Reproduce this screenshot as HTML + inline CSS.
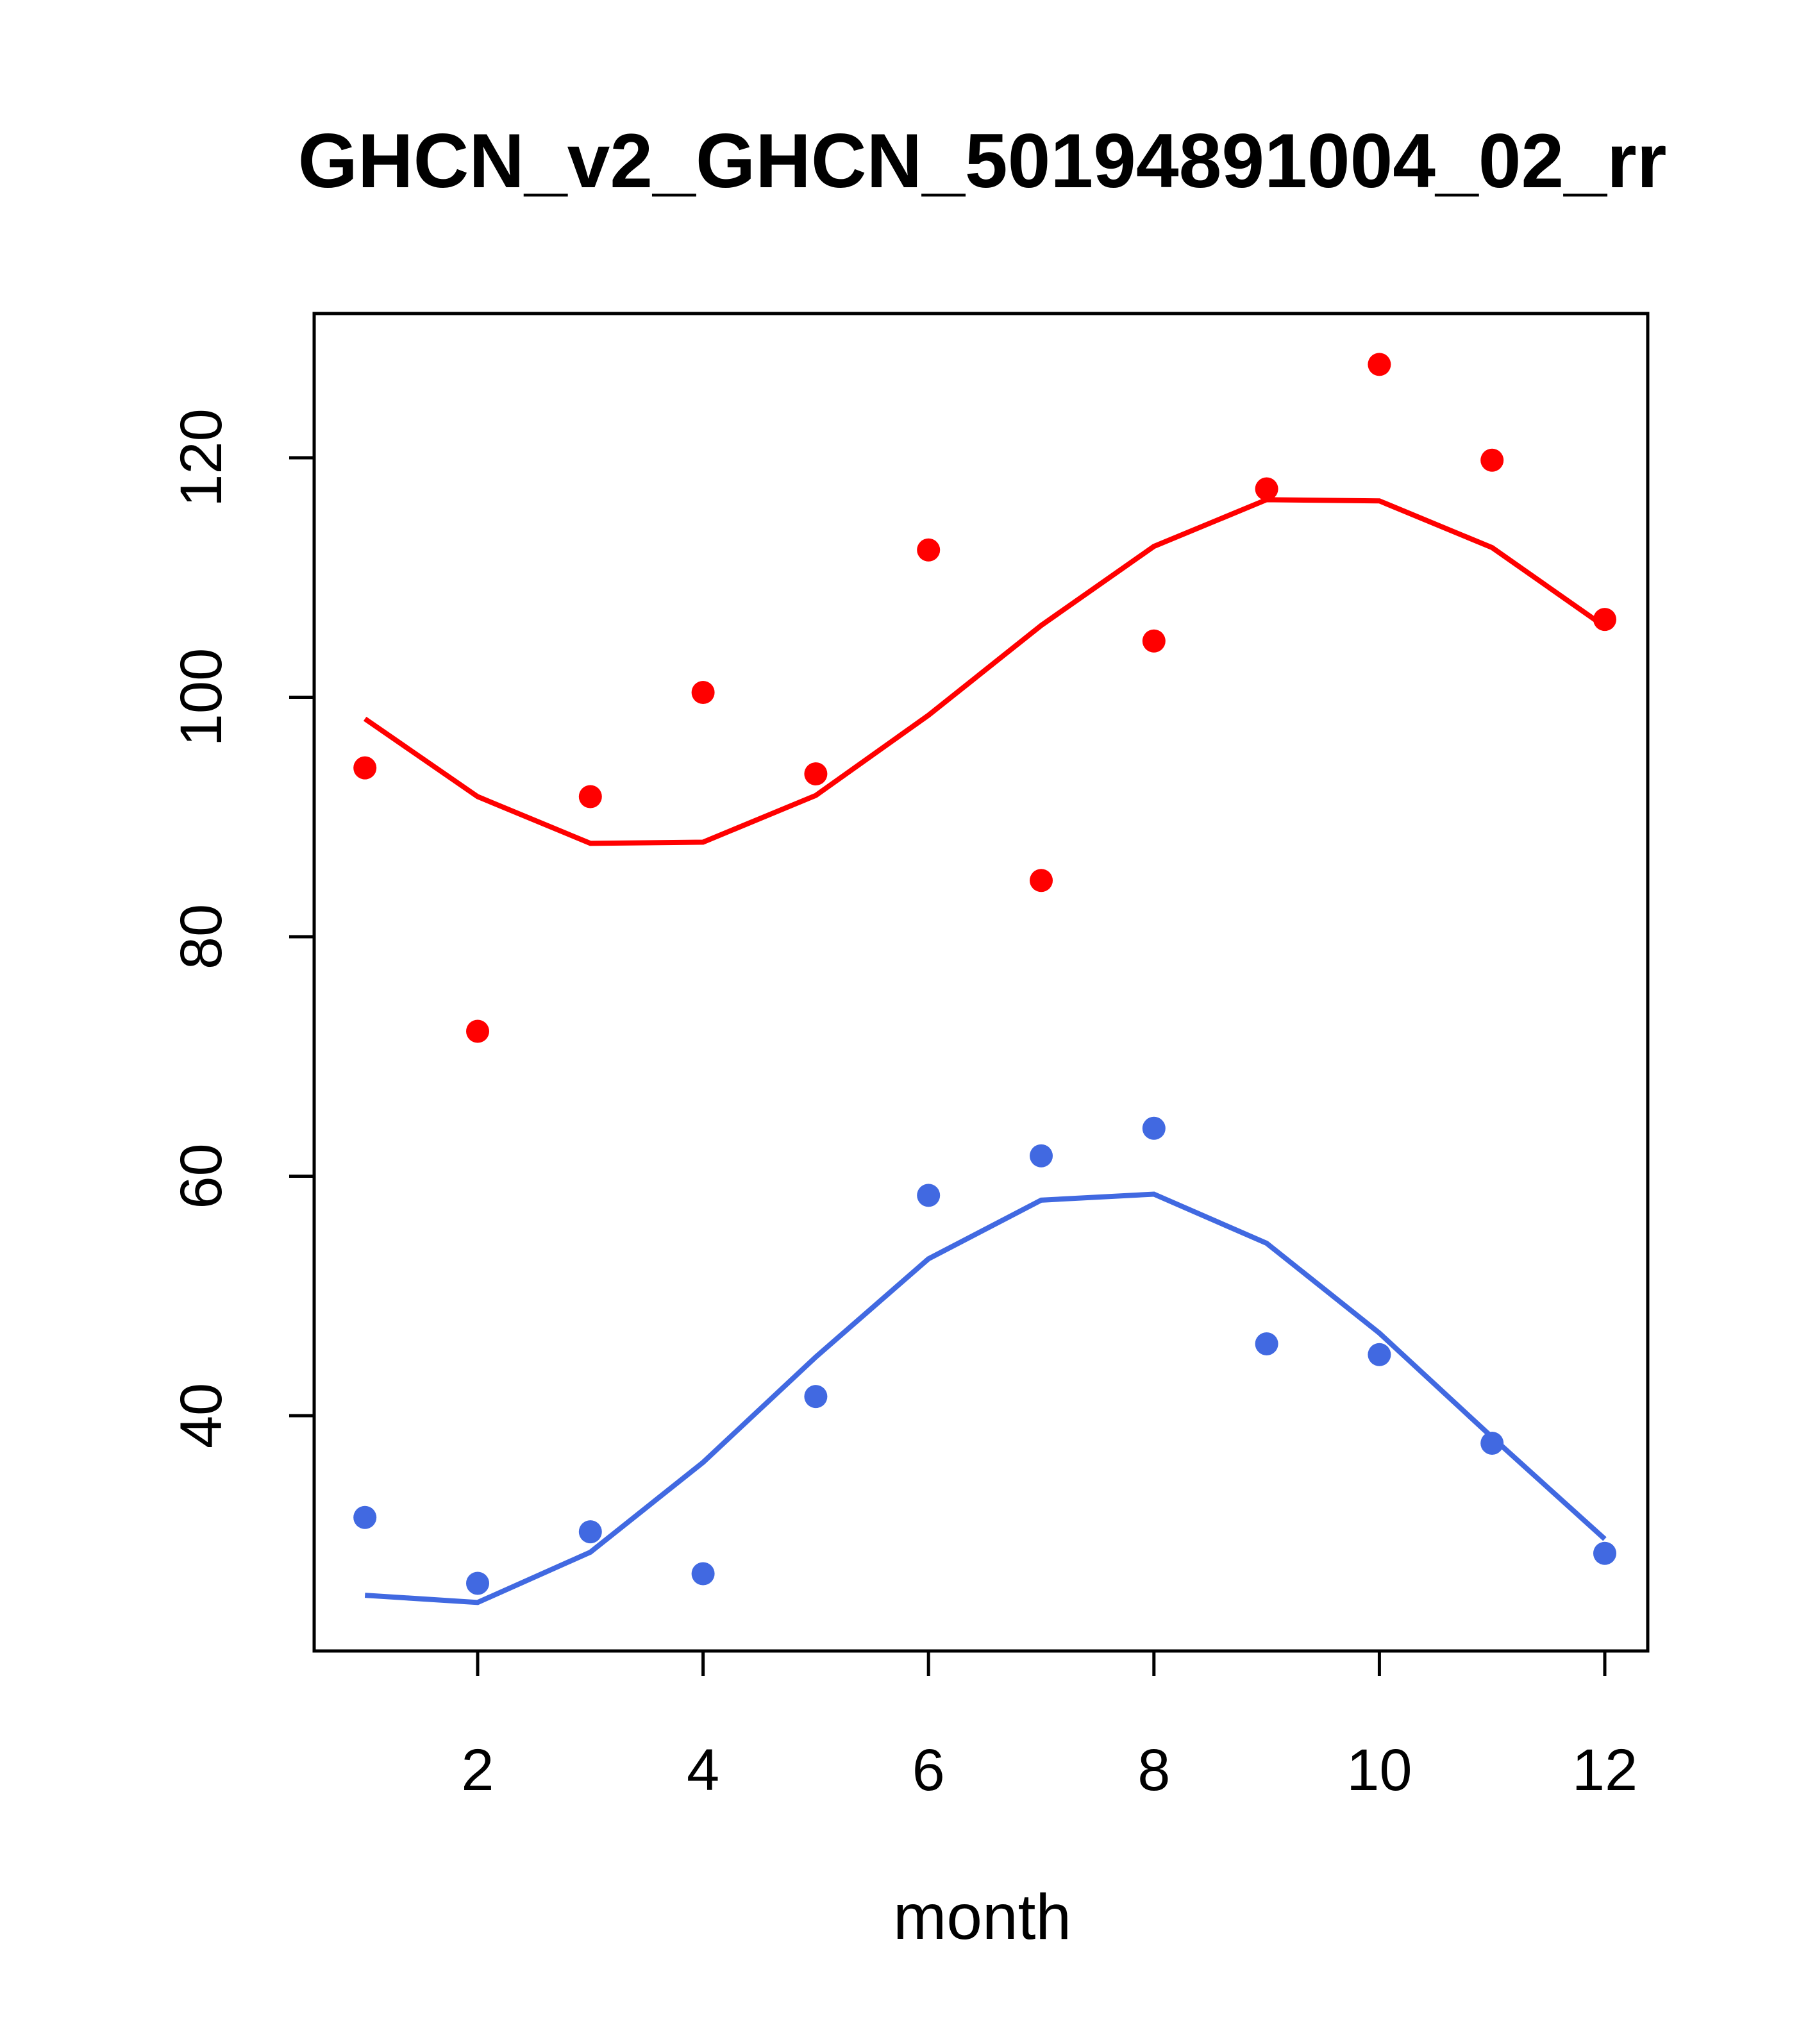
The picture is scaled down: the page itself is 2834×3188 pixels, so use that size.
<!DOCTYPE html>
<html><head><meta charset="utf-8"><style>html,body{margin:0;padding:0;background:#fff}svg{display:block}</style></head>
<body>
<svg id="chart" width="2834" height="3188" viewBox="0 0 2834 3188" xmlns="http://www.w3.org/2000/svg" font-family="Liberation Sans, sans-serif">
<text x="1532" y="292" font-size="120" font-weight="bold" text-anchor="middle">GHCN_v2_GHCN_50194891004_02_rr</text>
<rect x="490" y="489" width="2080" height="2086" fill="none" stroke="#000" stroke-width="5"/>
<g id="xaxis"></g>
<g id="yaxis"></g>
<text x="1532" y="3024" font-size="100" text-anchor="middle">month</text>
<g id="series"></g>
</svg>
<script>
const months=[1,2,3,4,5,6,7,8,9,10,11,12];
const redPoints=[94.1,72.1,91.7,100.4,93.6,112.3,84.7,104.7,117.4,127.8,119.8,106.5];
const redLine=[98.2,91.7,87.8,87.9,91.8,98.5,106.0,112.6,116.5,116.4,112.5,105.9];
const bluePoints=[31.5,26.0,30.3,26.8,41.6,58.4,61.7,64.0,46.0,45.1,37.7,28.5];
const blueLine=[25.0,24.4,28.6,36.1,44.9,53.1,58.0,58.5,54.4,46.9,38.2,29.7];
const xTicks=[2,4,6,8,10,12];
const yTicks=[40,60,80,100,120];
const NS='http://www.w3.org/2000/svg';
function sx(m){return 745+(m-2)*(2503-745)/10;}
function sy(v){return 714+(120-v)*(2208-714)/80;}
function mk(t,a,p){const e=document.createElementNS(NS,t);for(const k in a)e.setAttribute(k,a[k]);p.appendChild(e);return e;}
const xa=document.getElementById('xaxis'),ya=document.getElementById('yaxis'),se=document.getElementById('series');
mk('line',{x1:sx(2),x2:sx(12),y1:2575,y2:2575,stroke:'#000','stroke-width':5},xa);
xTicks.forEach(t=>{
 const l=mk('line',{x1:sx(t),x2:sx(t),y1:2575,y2:2614,stroke:'#000','stroke-width':5},xa);
 
 
 const tx=mk('text',{x:sx(t),y:2792,'font-size':92,'text-anchor':'middle'},xa);tx.textContent=t;
 
 
});
yTicks.forEach(t=>{
 const l=mk('line',{x1:451,x2:490,y1:sy(t),y2:sy(t),stroke:'#000','stroke-width':5},ya);
 
 
 const tx=mk('text',{x:0,y:0,'font-size':92,'text-anchor':'middle',transform:`translate(345,${sy(t)}) rotate(-90)`},ya);tx.textContent=t;
 
 
});
function drawLine(vals,col,name){
 const p=mk('polyline',{points:vals.map((v,i)=>sx(months[i])+','+sy(v)).join(' '),fill:'none',stroke:col,'stroke-width':8},se);
 
 
}
function drawPts(vals,col,name){
 vals.forEach((v,i)=>{
  const c=mk('circle',{cx:sx(months[i]),cy:sy(v),r:18,fill:col},se);
  
  
 });
}
drawLine(redLine,'#ff0000','red-smooth-line');
drawPts(redPoints,'#ff0000','red-point');
drawLine(blueLine,'#4169e1','blue-smooth-line');
drawPts(bluePoints,'#4169e1','blue-point');
</script>
</body></html>
